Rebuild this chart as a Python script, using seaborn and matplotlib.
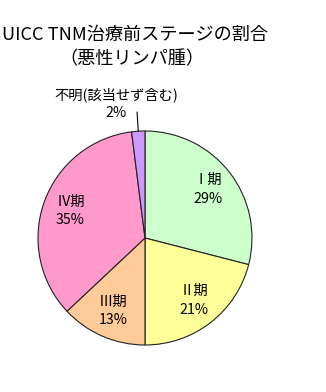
import numpy as np
import matplotlib
matplotlib.use("Agg")
import matplotlib.pyplot as plt
import seaborn as sns

# data
stages = ["Ⅰ期", "Ⅱ期", "Ⅲ期", "Ⅳ期", "不明(該当せず含む)"]
shares = [29, 21, 13, 35, 2]
colors = ["#CCFFCC", "#FFFF99", "#FFCC99", "#FF99CC", "#CC99FF"]
title_lines = ["UICC TNM治療前ステージの割合", "（悪性リンパ腫）"]

sns.set_theme(style="white")
plt.rcParams["font.family"] = ["Noto Sans CJK JP", "DejaVu Sans"]

W, H = 326, 392
fig = plt.figure(figsize=(W / 100, H / 100), dpi=100)
fig.patch.set_facecolor("white")
ax = fig.add_axes([38 / W, 47 / H, 214 / W, 214 / H])

wedges, _ = ax.pie(
    shares,
    colors=colors,
    startangle=90,
    counterclock=False,
    radius=1.0,
    wedgeprops=dict(edgecolor="#222222", linewidth=0.8),
)
ax.set_xlim(-1, 1)
ax.set_ylim(-1, 1)
ax.set_aspect("equal")
ax.axis("off")

total = sum(shares)
for w, name, v in zip(wedges, stages, shares):
    mid = np.deg2rad((w.theta1 + w.theta2) / 2)
    pct = f"{round(100 * v / total)}%"
    if v / total > 0.05:
        r = 0.74
        ax.text(r * np.cos(mid), r * np.sin(mid), f"{name}\n{pct}",
                ha="center", va="center", fontsize=10.3, linespacing=1.4,
                color="black")
    else:
        ax.plot([1.0 * np.cos(mid), 1.18 * np.cos(mid)],
                [1.0 * np.sin(mid), 1.18 * np.sin(mid)],
                color="black", lw=0.8, clip_on=False)
        ax.text(-0.27, 1.255, f"{name}\n{pct}",
                ha="center", va="center", fontsize=10.3, linespacing=1.4,
                color="black", clip_on=False)

fig.text(135 / W, 1 - 35 / H, title_lines[0], ha="center", va="center",
         fontsize=13.1, color="black")
fig.text(132 / W, 1 - 59 / H, title_lines[1], ha="center", va="center",
         fontsize=13.1, color="black")

fig.savefig("out.png", dpi=100, facecolor="white")
